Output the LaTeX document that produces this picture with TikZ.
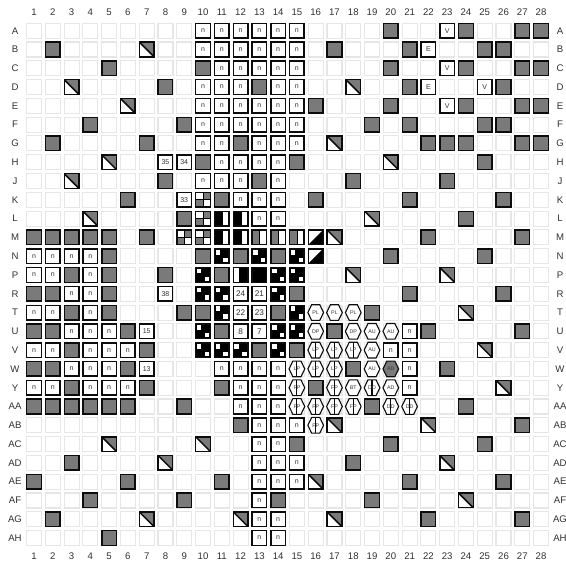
\documentclass[tikz,border=0pt]{standalone}
\usepackage{fontspec}
\setmainfont{Liberation Sans}
\newdimen\hxl \newdimen\hxr \newdimen\hyb \newdimen\hyt \newdimen\hym \newdimen\hxa \newdimen\hxc
\makeatletter
\pgfdeclareshape{hexpin}{
  \inheritsavedanchors[from=rectangle]
  \inheritanchorborder[from=rectangle]
  \inheritanchor[from=rectangle]{center}
  \inheritanchor[from=rectangle]{north}
  \inheritanchor[from=rectangle]{south}
  \inheritanchor[from=rectangle]{east}
  \inheritanchor[from=rectangle]{west}
  \backgroundpath{
    \southwest \hxl=\pgf@x \hyb=\pgf@y
    \northeast \hxr=\pgf@x \hyt=\pgf@y
    \hym=.5\hyb \advance\hym by .5\hyt
    \hxa=\hxl \advance\hxa by 3.8pt
    \hxc=\hxr \advance\hxc by -3.8pt
    \pgfpathmoveto{\pgfqpoint{\hxl}{\hym}}
    \pgfpathlineto{\pgfqpoint{\hxa}{\hyt}}
    \pgfpathlineto{\pgfqpoint{\hxc}{\hyt}}
    \pgfpathlineto{\pgfqpoint{\hxr}{\hym}}
    \pgfpathlineto{\pgfqpoint{\hxc}{\hyb}}
    \pgfpathlineto{\pgfqpoint{\hxa}{\hyb}}
    \pgfpathclose
  }
}
\makeatother
\definecolor{pingray}{HTML}{7A7A7A}
\definecolor{edgegray}{HTML}{E6E6E6}
\definecolor{inkdark}{HTML}{0C0C0C}
\definecolor{inktext}{HTML}{333333}
\def\ppb{path picture bounding box}
\tikzset{
  gridlabel/.style={inner sep=0pt,font=\fontsize{9.6}{10}\selectfont,text=inkdark!85!white},
  pinbase/.style={rectangle,inner sep=0pt,minimum size=14.6pt,draw=inkdark,line width=1.45pt,fill=white},
  pinEmpty/.style={rectangle,inner sep=0pt,minimum size=15pt,draw=edgegray,line width=1.1pt,fill=white},
  pinG/.style={pinbase,fill=pingray,node contents={}},
  pinT/.style={pinbase,font=\fontsize{7}{7}\selectfont,text=inktext,node contents={#1}},
  pinL/.style={pinbase,font=\fontsize{8.2}{8}\selectfont,text=inktext,node contents={#1}},
  pinD/.style={pinbase,node contents={},path picture={
    \fill[pingray] (\ppb.north west)--(\ppb.north east)--(\ppb.south east)--cycle;
    \draw[inkdark,line width=1.5pt] (\ppb.north west)--(\ppb.south east);}},
  pinK/.style={pinbase,fill=black,node contents={},path picture={
    \fill[white] ([shift={(1.2pt,-1.2pt)}]\ppb.north west) rectangle +(4.5pt,-4.5pt);
    \fill[white] ([shift={(-1.2pt,1.2pt)}]\ppb.south east) rectangle +(-4.5pt,4.5pt);}},
  pinQ/.style={pinbase,node contents={},path picture={
    \fill[pingray] (\ppb.north) rectangle (\ppb.east);
    \fill[pingray] (\ppb.west) rectangle (\ppb.south);
    \draw[black,line width=1pt] (\ppb.north)--(\ppb.south) (\ppb.west)--(\ppb.east);}},
  pinB/.style={pinbase,node contents={},path picture={
    \fill[black] (\ppb.north west) rectangle ([xshift=1pt]\ppb.south);}},
  pinH/.style={pinbase,node contents={},path picture={
    \fill[pingray] (\ppb.north west) rectangle (\ppb.south);
    \draw[black,line width=1pt] ([xshift=.6pt]\ppb.north)--([xshift=.6pt]\ppb.south);}},
  pinW/.style={pinbase,fill=black,node contents={},path picture={
    \fill[white] ([xshift=1.2pt]\ppb.north west) rectangle ([xshift=-1.5pt]\ppb.south);}},
  pinX/.style={pinbase,fill=black,node contents={}},
  pinS/.style={pinbase,node contents={},path picture={
    \fill[black] (\ppb.north east)--(\ppb.south east)--(\ppb.south west)--cycle;}},
  pinHex/.style={shape=hexpin,inner sep=0pt,minimum width=14.6pt,minimum height=14.6pt,draw=inkdark,line width=1.1pt,fill=white,
    font=\fontsize{5.3}{5}\selectfont,text=inktext,node contents={#1}},
  pinHexGray/.style={pinHex={#1},fill=pingray},
  pinHexSplit/.style={pinHex={#1},path picture={
    \draw[inkdark,line width=1.1pt] (\ppb.north)--(\ppb.south);}},
}
\newcommand\pinrow[3]{\foreach \c in {#3}{%
  \node[#2,at={({34+18.78*(\c-1)},{-(30.7+18.79*(#1-1))})},name=p#1-#2-\c];}}
\begin{document}
\begin{tikzpicture}[x=1pt,y=1pt]
\useasboundingbox (0,0) rectangle (566,-565);
% column numbers
\foreach \c in {1,...,28}{
  \node[gridlabel] (ct\c) at ({34+18.78*(\c-1)},-12.3) {\c};
  \node[gridlabel] (cb\c) at ({34+18.78*(\c-1)},-556) {\c};
}
% row letters
\foreach \r/\n in {1/A,2/B,3/C,4/D,5/E,6/F,7/G,8/H,9/J,10/K,11/L,12/M,13/N,14/P,15/R,16/T,17/U,18/V,19/W,20/Y,21/AA,22/AB,23/AC,24/AD,25/AE,26/AF,27/AG,28/AH}{
  \node[gridlabel] (rl\r) at (15,{-(30.7+18.79*(\r-1))}) {\n};
  \node[gridlabel] (rr\r) at (560,{-(30.7+18.79*(\r-1))}) {\n};
}
% empty sites
\foreach \r in {1,...,28}{\foreach \c in {1,...,28}{
  \node[pinEmpty] (e\r-\c) at ({34+18.78*(\c-1)},{-(30.7+18.79*(\r-1))}) {};
}}
% A
\pinrow{1}{pinT=n}{10,...,15}\pinrow{1}{pinG}{20,24,27,28}\pinrow{1}{pinT=V}{23}
% B
\pinrow{2}{pinG}{2,17,21,25,26}\pinrow{2}{pinD}{7}\pinrow{2}{pinT=n}{10,...,15}\pinrow{2}{pinT=E}{22}
% C
\pinrow{3}{pinG}{5,10,20,24,27,28}\pinrow{3}{pinT=n}{11,...,15}\pinrow{3}{pinT=V}{23}
% D
\pinrow{4}{pinD}{3,18}\pinrow{4}{pinG}{8,13,21,26}\pinrow{4}{pinT=n}{10,11,12,14,15}\pinrow{4}{pinT=E}{22}\pinrow{4}{pinT=V}{25}
% E
\pinrow{5}{pinD}{6}\pinrow{5}{pinT=n}{10,...,15}\pinrow{5}{pinG}{16,20,24,27,28}\pinrow{5}{pinT=V}{23}
% F
\pinrow{6}{pinG}{4,9,19,21,25,26}\pinrow{6}{pinT=n}{10,...,15}
% G
\pinrow{7}{pinG}{2,7,12,22,23,24,27,28}\pinrow{7}{pinT=n}{10,11,13,14,15}\pinrow{7}{pinD}{17}
% H
\pinrow{8}{pinD}{5,20}\pinrow{8}{pinT=35}{8}\pinrow{8}{pinT=34}{9}\pinrow{8}{pinG}{10,15,25}\pinrow{8}{pinT=n}{11,...,14}
% J
\pinrow{9}{pinD}{3}\pinrow{9}{pinG}{8,13,18,23}\pinrow{9}{pinT=n}{10,11,12,14}
% K
\pinrow{10}{pinG}{6,11,16,21,26}\pinrow{10}{pinT=33}{9}\pinrow{10}{pinQ}{10}\pinrow{10}{pinT=n}{12,13,14}
% L
\pinrow{11}{pinD}{4,19}\pinrow{11}{pinG}{9,24}\pinrow{11}{pinQ}{10}\pinrow{11}{pinB}{11,12}\pinrow{11}{pinT=n}{13,14}
% M
\pinrow{12}{pinG}{1,2,3,4,5,7,22,27}\pinrow{12}{pinQ}{9,10}\pinrow{12}{pinB}{11,12}\pinrow{12}{pinH}{13,14,15}\pinrow{12}{pinS}{16}\pinrow{12}{pinD}{17}
% N
\pinrow{13}{pinT=n}{1,2,3,4}\pinrow{13}{pinG}{5,10,12,14,20,25}\pinrow{13}{pinK}{11,13,15}\pinrow{13}{pinS}{16}
% P
\pinrow{14}{pinT=n}{1,2,4}\pinrow{14}{pinG}{3,5,8,11}\pinrow{14}{pinK}{10,14,15}\pinrow{14}{pinW}{12}\pinrow{14}{pinX}{13}\pinrow{14}{pinD}{18,23}
% R
\pinrow{15}{pinG}{1,2,5,15,21,26}\pinrow{15}{pinT=n}{3,4}\pinrow{15}{pinT=38}{8}\pinrow{15}{pinK}{10,11,14}\pinrow{15}{pinL=24}{12}\pinrow{15}{pinL=21}{13}
% T
\pinrow{16}{pinT=n}{1,2,4}\pinrow{16}{pinG}{3,5,9,10,14,19}\pinrow{16}{pinK}{11,15}\pinrow{16}{pinL=22}{12}\pinrow{16}{pinL=23}{13}\pinrow{16}{pinHex=PL}{16,17,18}\pinrow{16}{pinD}{24}
% U
\pinrow{17}{pinG}{1,2,6,11,17,22,27}\pinrow{17}{pinT=n}{3,4,5,21}\pinrow{17}{pinT=15}{7}\pinrow{17}{pinK}{10,14,15}\pinrow{17}{pinL=8}{12}\pinrow{17}{pinL=7}{13}\pinrow{17}{pinHex=DP}{16,18}\pinrow{17}{pinHex=AU}{19,20}
% V
\pinrow{18}{pinT=n}{1,2,4,5,6,20,21}\pinrow{18}{pinG}{3,7,13,15}\pinrow{18}{pinK}{10,11,12,14}\pinrow{18}{pinHexSplit=LP}{16,17,18}\pinrow{18}{pinHex=AU}{19}\pinrow{18}{pinD}{25}
% W
\pinrow{19}{pinG}{1,2,6,18,23}\pinrow{19}{pinT=n}{3,4,5,11,12,13,14,21}\pinrow{19}{pinT=13}{7}\pinrow{19}{pinHexSplit=LP}{15,16,17}\pinrow{19}{pinHex=AU}{19}\pinrow{19}{pinHexGray=AD}{20}
% Y
\pinrow{20}{pinT=n}{1,2,4,5,6,12,13,14,21}\pinrow{20}{pinG}{3,7,11,16}\pinrow{20}{pinHexSplit=FP}{15,17}\pinrow{20}{pinHex=BT}{18}\pinrow{20}{pinHexSplit=DD}{19}\pinrow{20}{pinHex=AD}{20}\pinrow{20}{pinD}{26}
% AA
\pinrow{21}{pinG}{1,2,3,4,5,6,9,19,24}\pinrow{21}{pinT=n}{12,13,14}\pinrow{21}{pinHexSplit=FP}{15,16,17,18}\pinrow{21}{pinHexSplit=DD}{20,21}
% AB
\pinrow{22}{pinG}{12,27}\pinrow{22}{pinT=n}{13,14,15}\pinrow{22}{pinHexSplit=FP}{16}\pinrow{22}{pinD}{17,22}
% AC
\pinrow{23}{pinD}{5,10}\pinrow{23}{pinT=n}{13,14}\pinrow{23}{pinG}{15,20,25}
% AD
\pinrow{24}{pinG}{3,18}\pinrow{24}{pinD}{8,23}\pinrow{24}{pinT=n}{13,14,15}
% AE
\pinrow{25}{pinG}{1,6,11,21,26}\pinrow{25}{pinT=n}{13,14,15}\pinrow{25}{pinD}{16}
% AF
\pinrow{26}{pinG}{4,9,14,19}\pinrow{26}{pinT=n}{13}\pinrow{26}{pinD}{24}
% AG
\pinrow{27}{pinG}{2,22,27}\pinrow{27}{pinD}{7,12,17}\pinrow{27}{pinT=n}{13,14}
% AH
\pinrow{28}{pinG}{5}\pinrow{28}{pinT=n}{13,14}
\end{tikzpicture}
\end{document}
